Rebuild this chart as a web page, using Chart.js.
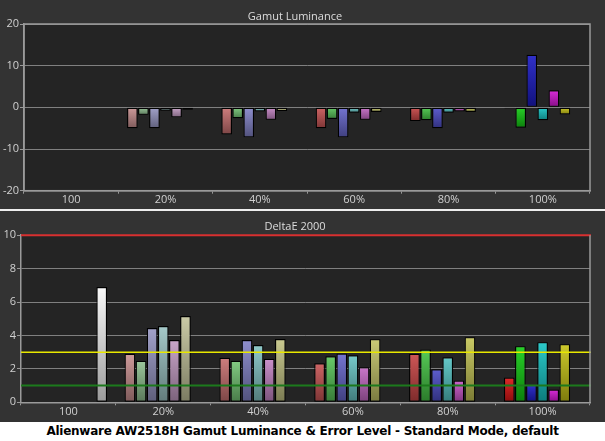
<!DOCTYPE html>
<html>
<head>
<meta charset="utf-8">
<script src="https://cdn.jsdelivr.net/npm/chart.js@4"></script>
<style>
  body { margin: 0; background: #333; width: 605px; height: 441px; overflow: hidden; position: relative; }
  .box { position: absolute; left: 0; width: 605px; }
  #foot { top: 422px; height: 19px; background: #fff; color: #000; font: bold 12px "DejaVu Sans", sans-serif;
          letter-spacing: -0.25px; text-align: center; line-height: 19px; white-space: nowrap; }
</style>
</head>
<body>
<div class="box" style="top:0;height:209px"><canvas id="lum"></canvas></div>
<div class="box" style="top:209px;height:2px;background:#eee"></div>
<div class="box" style="top:211px;height:211px"><canvas id="de"></canvas></div>
<div class="box" id="foot">Alienware AW2518H Gamut Luminance &amp; Error Level - Standard Mode, default</div>
<script>
const categories = ['100', '20%', '40%', '60%', '80%', '100%'];

// gamut luminance error (%)
const lumRed     = [null, -5.0, -6.5, -5.0, -3.3, -0.3];
const lumGreen   = [null, -1.8, -2.6, -2.8, -3.1, -4.9];
const lumBlue    = [null, -5.0, -7.2, -7.2, -5.0, 12.6];
const lumCyan    = [null, -0.8, -1.0, -1.3, -1.3, -3.1];
const lumMagenta = [null, -2.4, -3.0, -3.0, -1.0, 4.1];
const lumYellow  = [null, -0.6, -0.9, -1.1, -1.1, -1.7];
const lumWhite   = [0, null, null, null, null, null];

// deltaE 2000
const deRed     = [null, 2.9, 2.66, 2.34, 2.9, 1.48];
const deGreen   = [null, 2.48, 2.48, 2.76, 3.16, 3.36];
const deBlue    = [null, 4.45, 3.73, 2.92, 1.98, 1.04];
const deCyan    = [null, 4.57, 3.43, 2.82, 2.7, 3.6];
const deMagenta = [null, 3.73, 2.6, 2.1, 1.3, 0.76];
const deYellow  = [null, 5.16, 3.79, 3.78, 3.9, 3.48];
const deWhite   = [6.9, null, null, null, null, null];

const lumTicks = [-20, -10, 0, 10, 20];
const deTicks = [0, 2, 4, 6, 8, 10];
const deLimits = [10, 3, 1];

// colours per saturation step
const redCols     = ['#cc4444', '#c99090', '#c87070', '#c85454', '#c84444', '#dd1111'];
const greenCols   = ['#44cc44', '#90c090', '#74c474', '#58c458', '#44c444', '#11cc11'];
const blueCols    = ['#4444cc', '#9898c4', '#8282c8', '#6666cc', '#4c4cc8', '#1a1ac4'];
const cyanCols    = ['#44c0c0', '#9cc4c4', '#84c4c4', '#68c4c4', '#54c4c4', '#14c4c4'];
const magentaCols = ['#c050c0', '#c49cc4', '#c484c4', '#c468c4', '#c854c8', '#d414d4'];
const yellowCols  = ['#c0c050', '#c4c49c', '#c4c484', '#c4c468', '#c4c454', '#c8c414'];
const whiteCols   = ['#f8f8f8', '#f8f8f8', '#f8f8f8', '#f8f8f8', '#f8f8f8', '#f8f8f8'];
const limitCols   = ['#d83030', '#e8e800', '#1c7a1c'];

function shade(hex, f) {
  const n = parseInt(hex.slice(1), 16);
  let r = (n >> 16) & 255, g = (n >> 8) & 255, b = n & 255;
  if (f < 0) { r = r * (1 + f); g = g * (1 + f); b = b * (1 + f); }
  else { r = r + (255 - r) * f; g = g + (255 - g) * f; b = b + (255 - b) * f; }
  return 'rgb(' + Math.round(r) + ',' + Math.round(g) + ',' + Math.round(b) + ')';
}

function barFill(cols) {
  return function (c) {
    const col = cols[c.dataIndex];
    const chart = c.chart;
    if (c.raw == null || !chart.chartArea || !chart.scales.y) return col;
    const y = chart.scales.y;
    const a = y.getPixelForValue(c.raw), b = y.getPixelForValue(0);
    const top = Math.min(a, b), bot = Math.max(a, b) + 0.5;
    const g = chart.ctx.createLinearGradient(0, top, 0, bot);
    g.addColorStop(0, shade(col, 0.1));
    g.addColorStop(1, shade(col, -0.38));
    return g;
  };
}

function sets(list) {
  return list.map(([label, data, cols]) => ({
    label, data,
    backgroundColor: barFill(cols),
    borderColor: '#000',
    borderWidth: 1.2,
    borderSkipped: false,
    categoryPercentage: 0.82,
    barPercentage: 0.96
  }));
}

const plotBg = {
  id: 'plotBg',
  beforeDraw(chart) {
    const { ctx, chartArea: a } = chart;
    ctx.save();
    ctx.fillStyle = '#242424';
    ctx.fillRect(a.left, a.top, a.width, a.height);
    ctx.restore();
  }
};

const frame = {
  id: 'frame',
  afterDraw(chart) {
    const { ctx, chartArea: a } = chart;
    ctx.save();
    ctx.strokeStyle = '#9a9a9a';
    ctx.lineWidth = 1.5;
    if (chart.canvas.id === 'lum') {
      ctx.strokeRect(a.left, a.top, a.width, a.height);
    } else {
      ctx.beginPath();
      ctx.moveTo(a.right, a.top);
      ctx.lineTo(a.right, a.bottom);
      ctx.stroke();
    }
    ctx.restore();
  }
};

const limits = {
  id: 'limits',
  afterDatasetsDraw(chart) {
    if (chart.canvas.id !== 'de') return;
    const { ctx, chartArea: a } = chart;
    const y = chart.scales.y;
    ctx.save();
    deLimits.forEach((v, i) => {
      const py = y.getPixelForValue(v);
      ctx.strokeStyle = limitCols[i];
      ctx.lineWidth = i === 1 ? 1.5 : 2;
      ctx.beginPath();
      ctx.moveTo(a.left, py);
      ctx.lineTo(a.right + 1, py);
      ctx.stroke();
    });
    ctx.restore();
  }
};

const font = { family: '"Open Sans", sans-serif', size: 11 };

function opts(title, ticks, yw, xh, titlePad) {
  return {
    responsive: true,
    maintainAspectRatio: false,
    animation: false,
    layout: { padding: { left: 0, right: 15, top: 0, bottom: 0 } },
    plugins: {
      legend: { display: false },
      tooltip: { enabled: false },
      title: { display: true, text: title, color: '#dddddd', font: { ...font, weight: 'normal' }, padding: titlePad }
    },
    scales: {
      x: {
        offset: true,
        grid: { offset: true, drawOnChartArea: false, tickLength: 3, tickColor: '#999', color: '#999' },
        border: { color: '#9a9a9a', width: 1.5 },
        ticks: { color: '#d0d0d0', font, padding: 0 },
        afterFit(s) { s.height = xh; }
      },
      y: {
        min: ticks[0], max: ticks[ticks.length - 1],
        afterBuildTicks(s) { s.ticks = ticks.map(v => ({ value: v })); },
        grid: { color: '#808080', lineWidth: 1, tickLength: 4, tickColor: '#999' },
        border: { color: '#9a9a9a', width: 1.5 },
        ticks: { color: '#d0d0d0', font, padding: 1 },
        afterFit(s) { s.width = yw; }
      }
    }
  };
}

new Chart(document.getElementById('lum'), {
  type: 'bar',
  data: {
    labels: categories,
    datasets: sets([
      ['Red', lumRed, redCols], ['Green', lumGreen, greenCols], ['Blue', lumBlue, blueCols],
      ['Cyan', lumCyan, cyanCols], ['Magenta', lumMagenta, magentaCols], ['Yellow', lumYellow, yellowCols],
      ['White', lumWhite, whiteCols]
    ])
  },
  options: opts('Gamut Luminance', lumTicks, 24, 18.3, { top: 10, bottom: 0.8 }),
  plugins: [plotBg, frame]
});

new Chart(document.getElementById('de'), {
  type: 'bar',
  data: {
    labels: categories,
    datasets: sets([
      ['Red', deRed, redCols], ['Green', deGreen, greenCols], ['Blue', deBlue, blueCols],
      ['Cyan', deCyan, cyanCols], ['Magenta', deMagenta, magentaCols], ['Yellow', deYellow, yellowCols],
      ['White', deWhite, whiteCols]
    ])
  },
  options: opts('DeltaE 2000', deTicks, 21, 19.7, { top: 9.5, bottom: 1.5 }),
  plugins: [plotBg, frame, limits]
});
</script>
</body>
</html>
